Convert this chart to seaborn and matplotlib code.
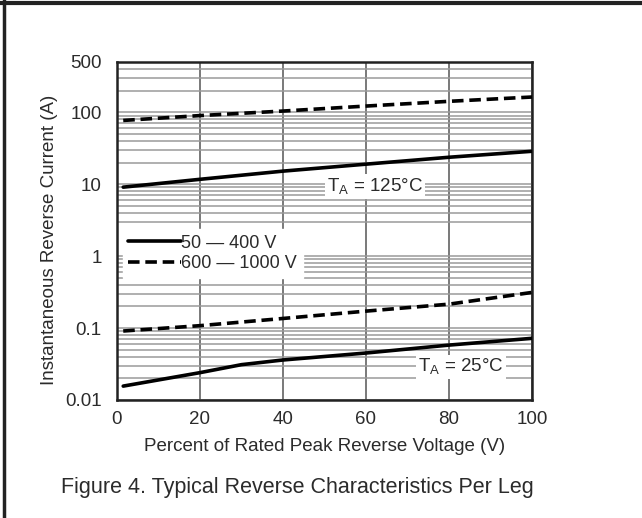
import numpy as np
import pandas as pd
import seaborn as sns
import matplotlib
matplotlib.use("Agg")
import matplotlib.pyplot as plt
from matplotlib.lines import Line2D

# ---- data ----
x_125_low = [1.5, 20, 40, 60, 80, 100]
i_125_low = [9.1, 11.7, 15.2, 19.0, 23.7, 28.7]
x_125_high = [1.5, 20, 40, 60, 80, 100]
i_125_high = [77, 90, 104, 122, 142, 163]
x_25_high = [1.5, 20, 40, 60, 80, 100]
i_25_high = [0.091, 0.108, 0.136, 0.172, 0.215, 0.313]
x_25_low = [1.5, 20, 30, 40, 60, 80, 100]
i_25_low = [0.0156, 0.024, 0.031, 0.036, 0.045, 0.058, 0.072]

series_labels = ["50 \u2014 400 V", "600 \u2014 1000 V"]
x_ticks = [0, 20, 40, 60, 80, 100]
y_ticks = [0.01, 0.1, 1, 10, 100, 500]
y_tick_labels = ["0.01", "0.1", "1", "10", "100", "500"]
y_minor = [0.02, 0.03, 0.04, 0.05, 0.06, 0.07, 0.08, 0.09,
           0.2, 0.3, 0.4, 0.5, 0.6, 0.7, 0.8, 0.9,
           3, 4, 5, 6, 7, 8, 9,
           20, 30, 40, 50, 60, 70, 80, 90,
           200, 300, 400]

sns.set_style("white")
plt.rcParams["font.family"] = ["Liberation Sans", "DejaVu Sans"]
plt.rcParams["mathtext.fontset"] = "custom"
plt.rcParams["mathtext.rm"] = "Liberation Sans"

TXT = "#2b2b2b"
FS = 13.5
fig = plt.figure(figsize=(6.42, 5.18), dpi=100)
ax = fig.add_axes([117 / 642, 1 - 400 / 518, 415 / 642, 338 / 518])

def frame(x, y):
    return pd.DataFrame({"x": x, "y": y})

lw = 2.6
sns.lineplot(data=frame(x_125_low, i_125_low), x="x", y="y", ax=ax,
             color="black", lw=lw, label=series_labels[0], zorder=3)
sns.lineplot(data=frame(x_125_high, i_125_high), x="x", y="y", ax=ax,
             color="black", lw=lw, label=series_labels[1], zorder=3)
ax.lines[-1].set_dashes((3.2, 1.6))
sns.lineplot(data=frame(x_25_high, i_25_high), x="x", y="y", ax=ax,
             color="black", lw=lw, zorder=3)
ax.lines[-1].set_dashes((3.2, 1.6))
sns.lineplot(data=frame(x_25_low, i_25_low), x="x", y="y", ax=ax,
             color="black", lw=lw, zorder=3)

ax.set_yscale("log")
ax.set_xlim(0, 100)
ax.set_ylim(0.01, 500)
ax.set_xticks(x_ticks)
ax.set_yticks(y_ticks)
ax.set_yticklabels(y_tick_labels)
ax.set_yticks(y_minor, minor=True)
ax.yaxis.set_minor_formatter(matplotlib.ticker.NullFormatter())
ax.tick_params(axis="both", which="both", length=0, labelsize=FS, colors=TXT)
ax.tick_params(axis="y", pad=11)
ax.tick_params(axis="x", pad=8)
ax.grid(True, axis="y", which="both", color="#9a9a9a", lw=1.1, zorder=1)
ax.grid(True, axis="x", which="major", color="#555555", lw=1.1, zorder=1)
ax.set_axisbelow(True)
for s in ax.spines.values():
    s.set_color("#222222")
    s.set_linewidth(1.8)

ax.set_xlabel("Percent of Rated Peak Reverse Voltage (V)", fontsize=FS,
              color=TXT, labelpad=7)
ax.set_ylabel("Instantaneous Reverse Current (A)", fontsize=FS, color=TXT)
ax.yaxis.set_label_coords(-0.142, 0.475)

leg = ax.legend(loc="upper left", bbox_to_anchor=(0.014, 0.505),
                frameon=True, facecolor="white", edgecolor="white",
                framealpha=1, fancybox=False, fontsize=13,
                handlelength=2.9, handletextpad=0.05, labelspacing=0.2,
                borderpad=0.3, borderaxespad=0)
for t in leg.get_texts():
    t.set_color(TXT)
leg.set_zorder(2)

bbox = dict(facecolor="white", edgecolor="none", pad=1.5)
ax.text(62.2, 9.3, r"T$_{\mathregular{A}}$ = 125°C", ha="center", va="center",
        fontsize=13.5, color=TXT, bbox=bbox, zorder=2)
ax.text(82.9, 0.0285, r"T$_{\mathregular{A}}$ = 25°C", ha="center", va="center",
        fontsize=13.5, color=TXT, bbox=bbox, zorder=2)

fig.text(297 / 642, 1 - 487 / 518, "Figure 4. Typical Reverse Characteristics Per Leg",
         ha="center", va="center", fontsize=15.5, color=TXT)

fig.add_artist(Line2D([4 / 642, 4 / 642], [0, 1], color="#222222", lw=2.5,
                      transform=fig.transFigure))
fig.add_artist(Line2D([0, 1], [1 - 3 / 518, 1 - 3 / 518], color="#222222", lw=3,
                      transform=fig.transFigure))

fig.savefig("out.png", dpi=100, facecolor="white")
